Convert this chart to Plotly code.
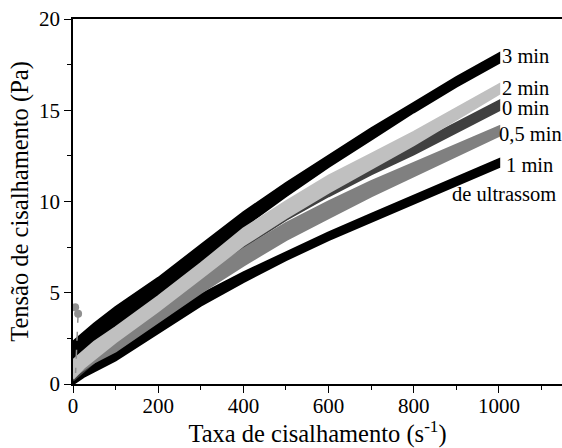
import plotly.graph_objects as go

shear = [0, 25, 50, 100, 200, 300, 400, 500, 600, 700, 800, 900, 1000]

# upper / lower branches of each (hysteresis) flow curve, Pa
min3_up = [2.3, 2.8, 3.3, 4.2, 5.8, 7.6, 9.4, 11.0, 12.5, 14.0, 15.4, 16.8, 18.1]
min3_dn = [1.2, 1.6, 2.0, 2.9, 4.7, 6.6, 8.6, 10.3, 11.9, 13.4, 14.9, 16.3, 17.6]
min2_up = [1.3, 1.8, 2.3, 3.1, 4.8, 6.6, 8.5, 10.0, 11.4, 12.6, 13.8, 15.1, 16.4]
min2_dn = [0.3, 0.9, 1.4, 2.3, 4.0, 5.8, 7.6, 9.1, 10.5, 11.8, 13.1, 14.5, 15.9]
min0_up = [1.0, 1.5, 2.0, 2.9, 4.6, 6.4, 8.2, 9.6, 10.9, 12.0, 13.1, 14.3, 15.5]
min0_dn = [0.2, 0.7, 1.2, 2.0, 3.7, 5.5, 7.5, 9.0, 10.3, 11.5, 12.6, 13.8, 15.0]
min05_up = [1.2, 1.5, 1.9, 2.6, 4.1, 5.8, 7.4, 8.8, 10.0, 11.1, 12.1, 13.1, 14.1]
min05_dn = [0.4, 0.8, 1.2, 1.8, 3.4, 5.0, 6.5, 7.9, 9.1, 10.3, 11.4, 12.5, 13.6]
min1_up = [0.3, 1.0, 1.5, 2.2, 3.5, 4.9, 6.1, 7.2, 8.3, 9.3, 10.3, 11.3, 12.3]
min1_dn = [0.0, 0.4, 0.7, 1.3, 2.8, 4.3, 5.6, 6.8, 7.9, 8.9, 9.9, 10.9, 11.9]

outlier_x = [5, 12]
outlier_y = [4.2, 3.85]
dash_x = [12, 10, 8, 6]
dash_y = [3.85, 2.6, 1.5, 0.6]

labels = ["3 min", "2 min", "0 min", "0,5 min", "1 min", "de ultrassom"]
label_y = [18.0, 16.2, 15.1, 13.7, 12.0, 10.4]
label_x = [1003, 1003, 1003, 996, 1012, 884]

series = [
    (min3_up, min3_dn, "#000000"),
    (min1_up, min1_dn, "#000000"),
    (min0_up, min0_dn, "#404040"),
    (min05_up, min05_dn, "#808080"),
    (min2_up, min2_dn, "#c0c0c0"),
]

FONT = "Liberation Serif, Times New Roman, serif"

fig = go.Figure()
for up, dn, col in series:
    fig.add_trace(go.Scatter(
        x=shear + shear[::-1], y=up + dn[::-1], mode="lines",
        fill="toself", fillcolor=col, line=dict(color=col, width=2.5),
        hoverinfo="skip", showlegend=False))

fig.add_trace(go.Scatter(x=dash_x, y=dash_y, mode="lines",
                         line=dict(color="#909090", width=1.5, dash="dash"),
                         showlegend=False))
fig.add_trace(go.Scatter(x=outlier_x, y=outlier_y, mode="markers",
                         marker=dict(color="#909090", size=8, symbol="circle"),
                         showlegend=False))

for t, xx, yy in zip(labels, label_x, label_y):
    fig.add_annotation(x=xx, y=yy, text=t, showarrow=False, xanchor="left",
                       yanchor="middle", font=dict(family=FONT, size=20.5, color="#000"))

tick_font = dict(family=FONT, size=21, color="#000")
title_font = dict(family=FONT, size=24.5, color="#000")
fig.update_layout(
    width=562, height=448,
    margin=dict(l=73, r=0, t=19, b=64),
    paper_bgcolor="white", plot_bgcolor="white",
    font=dict(family=FONT, size=21, color="#000"),
    xaxis=dict(range=[0, 1148], showgrid=False, zeroline=False,
               showline=True, linecolor="#000", linewidth=1.5, mirror=True,
               ticks="outside", ticklen=7, tickwidth=1.3, tickcolor="#000",
               ticklabelstandoff=-5,
               tickvals=[0, 200, 400, 600, 800, 1000],
               minor=dict(tickvals=[100, 300, 500, 700, 900, 1100], ticks="outside",
                          ticklen=4, tickwidth=1.3, tickcolor="#000"),
               tickfont=tick_font,
               title=dict(text="Taxa de cisalhamento (s<sup>-1</sup>)", font=title_font, standoff=10)),
    yaxis=dict(range=[0, 20], showgrid=False, zeroline=False,
               showline=True, linecolor="#000", linewidth=1.5,
               ticks="outside", ticklen=7, tickwidth=1.3, tickcolor="#000",
               tickvals=[0, 5, 10, 15, 20],
               minor=dict(tickvals=[2.5, 7.5, 12.5, 17.5], ticks="outside",
                          ticklen=4, tickwidth=1.3, tickcolor="#000"),
               tickfont=tick_font,
               title=dict(text="Tensão de cisalhamento (Pa)", font=title_font, standoff=3)),
)

fig.write_html("out.html")
